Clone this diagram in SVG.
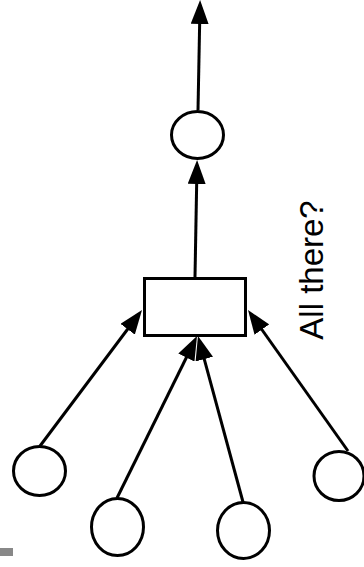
<svg xmlns="http://www.w3.org/2000/svg" width="364" height="567" viewBox="0 0 364 567">
<defs>
<style>
.n{fill:#fff;stroke:#000;stroke-width:3}
.c{stroke:#000;stroke-width:3;fill:none;marker-end:url(#ah)}
.t{font-family:"Liberation Sans",Arial,sans-serif;font-size:33px;fill:#000}
</style>
<marker id="ah" viewBox="0 0 24 18" refX="19" refY="9" markerWidth="24" markerHeight="18" markerUnits="userSpaceOnUse" orient="auto">
<path d="M0,0 L24,9 L0,18 Z" fill="#000"/>
</marker>
</defs>
<rect x="0" y="548" width="13" height="8" fill="#888"/>
<g id="connectors">
<line class="c" x1="198" y1="110" x2="200" y2="5"/>
<line class="c" x1="195" y1="277" x2="197" y2="165"/>
<line class="c" x1="40" y1="446" x2="139" y2="314"/>
<line class="c" x1="117" y1="498" x2="194.8" y2="340.5"/>
<line class="c" x1="243" y1="502" x2="199.3" y2="340.8"/>
<line class="c" x1="348" y1="451" x2="250.9" y2="314.1"/>
</g>
<g id="out"><ellipse class="n" cx="197.5" cy="135" rx="26" ry="23.5"/></g>
<g id="gate"><rect class="n" x="144.5" y="278.5" width="101" height="57"/></g>
<g id="in1"><ellipse class="n" cx="39.5" cy="471" rx="26" ry="24.5"/></g>
<g id="in2"><ellipse class="n" cx="117.5" cy="527" rx="26" ry="28.5"/></g>
<g id="in3"><ellipse class="n" cx="243.5" cy="530.5" rx="26" ry="28"/></g>
<g id="in4"><ellipse class="n" cx="339" cy="476" rx="25" ry="24.5"/></g>
<g id="label"><text class="t" transform="translate(323,270) rotate(-90)" text-anchor="middle">All there?</text></g>
</svg>
